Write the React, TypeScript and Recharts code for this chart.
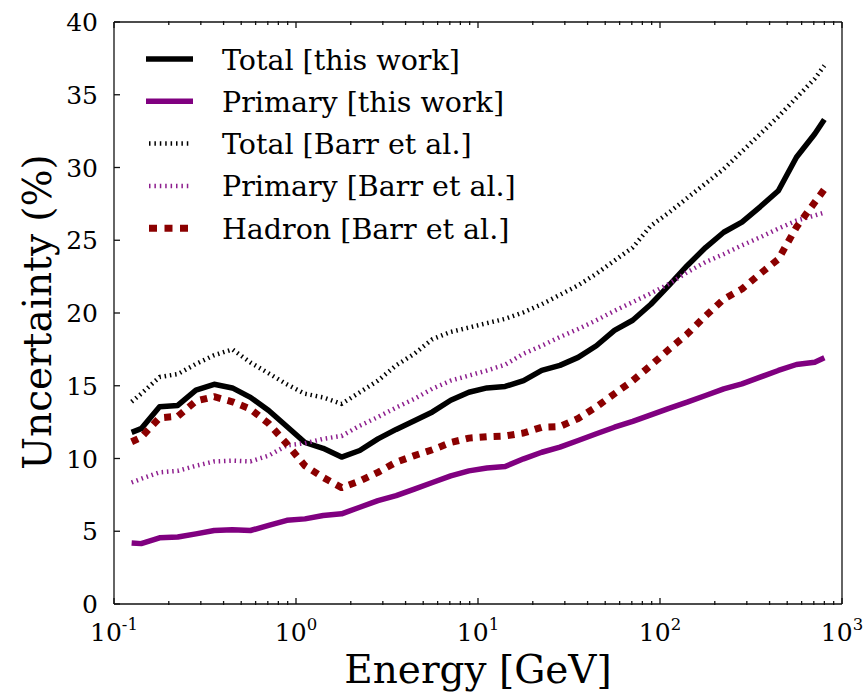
import { Line, LineChart, XAxis, YAxis } from "recharts";

// energy bin centres [GeV]
const ENERGY = [
  0.125, 0.141, 0.178, 0.224, 0.282, 0.355, 0.447, 0.562, 0.708, 0.891,
  1.12, 1.41, 1.78, 2.24, 2.82, 3.55, 4.47, 5.62, 7.08, 8.91,
  11.2, 14.1, 17.8, 22.4, 28.2, 35.5, 44.7, 56.2, 70.8, 89.1,
  112, 141, 178, 224, 282, 355, 447, 562, 708, 800,
];

const TOTAL_THIS = [
  11.8, 12.05, 13.55, 13.65, 14.7, 15.1, 14.85, 14.2, 13.3, 12.2,
  11.1, 10.7, 10.1, 10.55, 11.35, 12.0, 12.6, 13.2, 14.0, 14.55,
  14.85, 14.95, 15.35, 16.05, 16.4, 16.95, 17.75, 18.8, 19.5, 20.6,
  21.9, 23.25, 24.5, 25.55, 26.25, 27.3, 28.4, 30.7, 32.3, 33.3,
];

const PRIMARY_THIS = [
  4.2, 4.15, 4.55, 4.6, 4.82, 5.05, 5.1, 5.05, 5.4, 5.75,
  5.85, 6.08, 6.2, 6.65, 7.1, 7.45, 7.9, 8.35, 8.8, 9.15,
  9.35, 9.45, 9.98, 10.43, 10.78, 11.24, 11.7, 12.15, 12.55, 13.0,
  13.45, 13.87, 14.33, 14.79, 15.13, 15.59, 16.05, 16.46, 16.62, 16.92,
];

const TOTAL_BARR = [
  13.9, 14.45, 15.6, 15.8, 16.5, 17.1, 17.5, 16.6, 15.85, 15.1,
  14.45, 14.2, 13.75, 14.55, 15.35, 16.4, 17.2, 18.2, 18.7, 19.0,
  19.3, 19.6, 20.05, 20.6, 21.25, 21.9, 22.7, 23.6, 24.5, 26.0,
  26.9, 27.9, 28.9, 29.9, 31.1, 32.3, 33.5, 34.8, 36.1, 37.0,
];

const PRIMARY_BARR = [
  8.35, 8.6, 9.05, 9.15, 9.5, 9.8, 9.85, 9.8, 10.2, 10.9,
  11.05, 11.35, 11.55, 12.25, 12.85, 13.5, 14.1, 14.8, 15.35, 15.7,
  16.05, 16.45, 17.2, 17.75, 18.35, 18.9, 19.5, 20.15, 20.75, 21.35,
  22.0, 22.8, 23.5, 24.05, 24.65, 25.2, 25.8, 26.35, 26.7, 26.9,
];

const HADRON_BARR = [
  11.15, 11.45, 12.8, 12.9, 13.95, 14.25, 13.9, 13.4, 12.4, 11.0,
  9.5, 8.7, 8.0, 8.45, 9.05, 9.75, 10.2, 10.6, 11.1, 11.4,
  11.5, 11.55, 11.75, 12.15, 12.2, 12.75, 13.55, 14.45, 15.35, 16.4,
  17.5, 18.55, 19.8, 20.95, 21.65, 22.7, 23.7, 25.9, 27.6, 28.5,
];

const X_TICKS = [0.1, 1, 10, 100, 1000];
const X_TICK_EXP = ["-1", "0", "1", "2", "3"];
const X_MINOR = [0.1, 1, 10, 100].flatMap((d) =>
  [2, 3, 4, 5, 6, 7, 8, 9].map((m) => +(m * d).toPrecision(3))
);
const Y_TICKS = [0, 5, 10, 15, 20, 25, 30, 35, 40];

const SERIES = [
  { key: "totalThis", name: "Total [this work]", color: "#000000", width: 5.5, dash: undefined, legendDash: undefined },
  { key: "primaryThis", name: "Primary [this work]", color: "#800080", width: 5.5, dash: undefined, legendDash: undefined },
  { key: "totalBarr", name: "Total [Barr et al.]", color: "#000000", width: 4.5, dash: "1.5 3.8", legendDash: "1.5 3.9" },
  { key: "primaryBarr", name: "Primary [Barr et al.]", color: "#8e1f8e", width: 4.5, dash: "1.5 3.8", legendDash: "1.5 3.9" },
  { key: "hadronBarr", name: "Hadron [Barr et al.]", color: "#8b0000", width: 7, dash: "7 7", legendDash: "8 7.5" },
];

const data = ENERGY.map((e, i) => ({
  e,
  totalThis: TOTAL_THIS[i],
  primaryThis: PRIMARY_THIS[i],
  totalBarr: TOTAL_BARR[i],
  primaryBarr: PRIMARY_BARR[i],
  hadronBarr: HADRON_BARR[i],
}));

const FONT = "'DejaVu Serif', serif";
const W = 866;
const H = 692;
// axes are 1px thick boxes, so the plot area ends up at 114..842 x 22..604
const MARGIN = { top: 20, right: 23, bottom: 86, left: 113 };
const AXIS = { stroke: "#111", strokeWidth: 1.3 };

const NoLabel = () => <g />;

const XTick = (props: any) => {
  const { x, y, index } = props;
  return (
    <text x={x} y={y + 37} textAnchor="middle" fontFamily={FONT} fontSize={25} fill="#000">
      <tspan>10</tspan>
      <tspan dy={-11.5} fontSize={16.5}>
        {X_TICK_EXP[index]}
      </tspan>
    </text>
  );
};

const YTick = (props: any) => {
  const { x, y, payload } = props;
  return (
    <text x={x} y={y + 9} textAnchor="end" fontFamily={FONT} fontSize={25} fill="#000">
      {payload.value}
    </text>
  );
};

export default function App() {
  return (
    <div style={{ position: "absolute", left: 0, top: 0, width: W, height: H, background: "#fff" }}>
      <LineChart width={W} height={H} data={data} margin={MARGIN}>
        <XAxis
          xAxisId="x"
          dataKey="e"
          type="number"
          scale="log"
          domain={[0.1, 1000]}
          allowDataOverflow
          ticks={X_TICKS}
          interval={0}
          height={1}
          axisLine={AXIS}
          tickLine={AXIS}
          tickSize={-6}
          tickMargin={6}
          tick={<XTick />}
        />
        <XAxis
          xAxisId="xminor"
          dataKey="e"
          type="number"
          scale="log"
          domain={[0.1, 1000]}
          allowDataOverflow
          ticks={X_MINOR}
          interval={0}
          height={1}
          axisLine={false}
          tickLine={AXIS}
          tickSize={-4}
          tick={NoLabel}
        />
        <XAxis
          xAxisId="xtop"
          orientation="top"
          dataKey="e"
          type="number"
          scale="log"
          domain={[0.1, 1000]}
          allowDataOverflow
          ticks={X_TICKS}
          interval={0}
          height={1}
          axisLine={AXIS}
          tickLine={AXIS}
          tickSize={-6}
          tick={NoLabel}
        />
        <XAxis
          xAxisId="xtopminor"
          orientation="top"
          dataKey="e"
          type="number"
          scale="log"
          domain={[0.1, 1000]}
          allowDataOverflow
          ticks={X_MINOR}
          interval={0}
          height={1}
          axisLine={false}
          tickLine={AXIS}
          tickSize={-4}
          tick={NoLabel}
        />
        <YAxis
          yAxisId="y"
          type="number"
          domain={[0, 40]}
          ticks={Y_TICKS}
          interval={0}
          width={1}
          axisLine={AXIS}
          tickLine={AXIS}
          tickSize={-6}
          tickMargin={22}
          tick={<YTick />}
        />
        <YAxis
          yAxisId="yright"
          orientation="right"
          type="number"
          domain={[0, 40]}
          ticks={Y_TICKS}
          interval={0}
          width={1}
          axisLine={AXIS}
          tickLine={AXIS}
          tickSize={-6}
          tick={NoLabel}
        />
        {SERIES.map((s) => (
          <Line
            key={s.key}
            xAxisId="x"
            yAxisId="y"
            type="linear"
            dataKey={s.key}
            name={s.name}
            stroke={s.color}
            strokeWidth={s.width}
            strokeDasharray={s.dash}
            strokeLinejoin="round"
            dot={false}
            activeDot={false}
            isAnimationActive={false}
          />
        ))}
      </LineChart>

      <svg
        width={W}
        height={H}
        style={{ position: "absolute", left: 0, top: 0, pointerEvents: "none" }}
      >
        {SERIES.map((s, i) => {
          const cy = 59 + i * 42.3;
          return (
            <g key={s.key}>
              <line
                x1={s.legendDash ? 149 : 146}
                x2={s.legendDash ? 189 : 193}
                y1={cy}
                y2={cy}
                stroke={s.color}
                strokeWidth={s.width}
                strokeDasharray={s.legendDash}
              />
              <text x={222} y={cy + 10.5} fontFamily={FONT} fontSize={28.5} fill="#000">
                {s.name}
              </text>
            </g>
          );
        })}
        <text x={478} y={683} textAnchor="middle" fontFamily={FONT} fontSize={39} fill="#000">
          Energy [GeV]
        </text>
        <text
          transform="translate(51, 312) rotate(-90)"
          textAnchor="middle"
          fontFamily={FONT}
          fontSize={39}
          fill="#000"
        >
          Uncertainty (%)
        </text>
      </svg>
    </div>
  );
}
